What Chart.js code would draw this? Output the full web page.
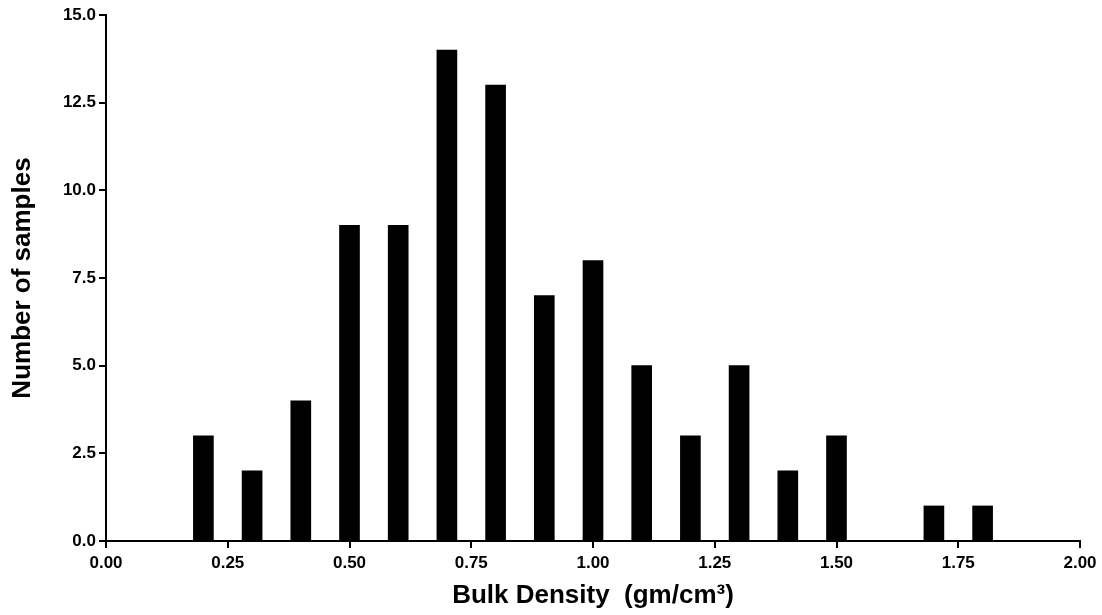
<!DOCTYPE html>
<html>
<head>
<meta charset="utf-8">
<script src="https://cdn.jsdelivr.net/npm/chart.js@4/dist/chart.umd.min.js"></script>
<style>
    html, body { margin: 0; padding: 0; background: #fff; }
    #wrap { width: 1102px; height: 615px; position: relative; }
</style>
</head>
<body>
<div id="wrap"><canvas id="density-chart"></canvas></div>
<script>
// --- DATA ---
const binCenters = [0.2, 0.3, 0.4, 0.5, 0.6, 0.7, 0.8, 0.9, 1.0, 1.1, 1.2, 1.3, 1.4, 1.5, 1.6, 1.7, 1.8];
const sampleCounts = [3, 2, 4, 9, 9, 14, 13, 7, 8, 5, 3, 5, 2, 3, 0, 1, 1];
const xTickValues = [0, 0.25, 0.5, 0.75, 1.0, 1.25, 1.5, 1.75, 2.0];
const yTickValues = [0, 2.5, 5, 7.5, 10, 12.5, 15];
const xTitle = 'Bulk Density  (gm/cm³)';
const yTitle = 'Number of samples';

const FONT = "'Liberation Sans', Arial, sans-serif";

const ctx = document.getElementById('density-chart').getContext('2d');
new Chart(ctx, {
    type: 'bar',
    data: {
        datasets: [{
            data: binCenters.map((x, i) => ({ x: x, y: sampleCounts[i] })),
            backgroundColor: '#000',
            borderWidth: 0,
            barThickness: 20
        }]
    },
    options: {
        responsive: true,
        maintainAspectRatio: false,
        animation: false,
        layout: { padding: { top: 15, right: 22, left: 0, bottom: 0 } },
        plugins: { legend: { display: false }, tooltip: { enabled: false } },
        scales: {
            x: {
                type: 'linear',
                min: 0,
                max: 2,
                offset: false,
                afterBuildTicks: scale => { scale.ticks = xTickValues.map(v => ({ value: v })); },
                afterFit: scale => { scale.height = 74; },
                ticks: {
                    callback: v => Number(v).toFixed(2),
                    color: '#000',
                    font: { family: FONT, size: 17, weight: 'bold' },
                    padding: 5,
                    maxRotation: 0,
                    autoSkip: false
                },
                grid: { offset: false, drawOnChartArea: false, drawTicks: true, tickLength: 7, color: '#000', lineWidth: 2 },
                border: { color: '#000', width: 2 },
                title: {
                    display: true,
                    text: xTitle,
                    color: '#000',
                    font: { family: FONT, size: 26, weight: 'bold' },
                    padding: { top: 0, bottom: 4 }
                }
            },
            y: {
                min: 0,
                max: 15,
                afterBuildTicks: scale => { scale.ticks = yTickValues.map(v => ({ value: v })); },
                afterFit: scale => { scale.width = 106; },
                ticks: {
                    callback: v => Number(v).toFixed(1),
                    color: '#000',
                    font: { family: FONT, size: 17, weight: 'bold' },
                    padding: 3
                },
                grid: { drawOnChartArea: false, drawTicks: true, tickLength: 7, color: '#000', lineWidth: 2 },
                border: { color: '#000', width: 2 },
                title: {
                    display: true,
                    text: yTitle,
                    color: '#000',
                    font: { family: FONT, size: 26, weight: 'bold' },
                    padding: { top: 7, bottom: 0 }
                }
            }
        }
    }
});
</script>
</body>
</html>
